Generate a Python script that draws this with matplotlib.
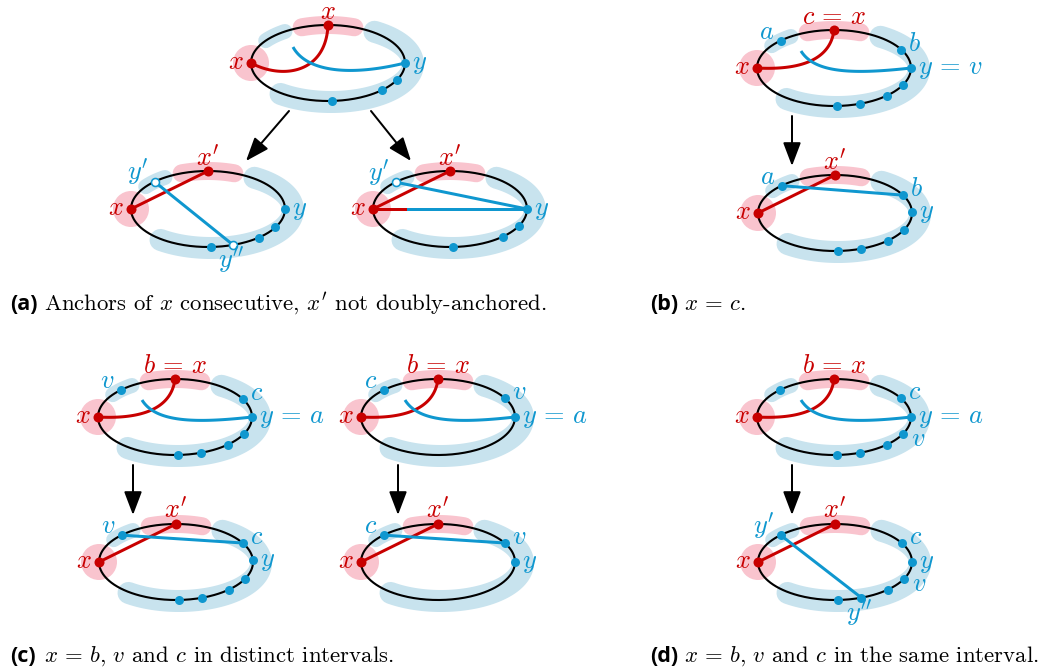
import numpy as np
import matplotlib.pyplot as plt
from matplotlib.patches import Circle, FancyArrowPatch

plt.rcParams['mathtext.fontset'] = 'cm'

RED = '#c80000'
BLUE = '#0f97cf'
PINK = '#f9c4ce'
PALE = '#c8e3ee'
COL = {'r': RED, 'b': BLUE}

PX = 0.72          # points per pixel at dpi 100
RX, RY = 77, 38    # ellipse half-axes (px)

# ellipse centres (px, y grows downwards)
centres = {
    'a0': (328, 63), 'a1': (208, 209), 'a2': (450, 209),
    'b0': (834, 68), 'b1': (835, 213),
    'c0': (175, 417), 'c1': (176, 562), 'c2': (438, 417), 'c3': (438, 562),
    'd0': (834, 417), 'd1': (835, 562),
}

# blue vertices, parametric angle on the ellipse in degrees
blue_dots = {
    'a0': [0, -27, -45, -87],
    'a1': [0, -29, -49, -88],
    'a2': [0, -27, -47, -88],
    'b0': [134, 29, 0, -27, -47, -70, -88],
    'b1': [134, 28, 2, -27, -47, -70, -88],
    'c0': [135, 28, 0, -27, -47, -70, -88],
    'c1': [135, 30, 3, -27, -47, -70, -88],
    'c2': [135, 30, 0],
    'c3': [135, 30, 0],
    'd0': [135, 30, 0, -27, -47, -70, -88],
    'd1': [135, 30, 0, -27, -47, -70, -88],
}
hollow_dots = {'a1': [134, -71], 'a2': [135]}
red_dots = [180, 90]

# vertex labels: (angle, text, colour, placement)
labels = {
    'a0': [(180, 'x', 'r', 'left'), (90, 'x', 'r', 'top'), (0, 'y', 'b', 'right')],
    'a1': [(180, 'x', 'r', 'left'), (90, "x'", 'r', 'top'), (134, "y'", 'b', 'ul'),
           (0, 'y', 'b', 'right'), (-71, "y''", 'b', 'below')],
    'a2': [(180, 'x', 'r', 'left'), (90, "x'", 'r', 'top'), (135, "y'", 'b', 'ul'),
           (0, 'y', 'b', 'right')],
    'b0': [(180, 'x', 'r', 'left'), (90, 'c = x', 'r', 'top'), (134, 'a', 'b', 'ul'),
           (29, 'b', 'b', 'ur'), (0, 'y = v', 'b', 'right')],
    'b1': [(180, 'x', 'r', 'left'), (90, "x'", 'r', 'top'), (134, 'a', 'b', 'ul'),
           (28, 'b', 'b', 'ur'), (2, 'y', 'b', 'right')],
    'c0': [(180, 'x', 'r', 'left'), (90, 'b = x', 'r', 'top'), (135, 'v', 'b', 'ul'),
           (28, 'c', 'b', 'ur'), (0, 'y = a', 'b', 'right')],
    'c1': [(180, 'x', 'r', 'left'), (90, "x'", 'r', 'top'), (135, 'v', 'b', 'ul'),
           (30, 'c', 'b', 'ur'), (3, 'y', 'b', 'right')],
    'c2': [(180, 'x', 'r', 'left'), (90, 'b = x', 'r', 'top'), (135, 'c', 'b', 'ul'),
           (30, 'v', 'b', 'ur'), (0, 'y = a', 'b', 'right')],
    'c3': [(180, 'x', 'r', 'left'), (90, "x'", 'r', 'top'), (135, 'c', 'b', 'ul'),
           (30, 'v', 'b', 'ur'), (0, 'y', 'b', 'right')],
    'd0': [(180, 'x', 'r', 'left'), (90, 'b = x', 'r', 'top'), (30, 'c', 'b', 'ur'),
           (0, 'y = a', 'b', 'right'), (-27, 'v', 'b', 'lr')],
    'd1': [(180, 'x', 'r', 'left'), (90, "x'", 'r', 'top'), (135, "y'", 'b', 'ul'),
           (30, 'c', 'b', 'ur'), (0, 'y', 'b', 'right'), (-27, 'v', 'b', 'lr'),
           (-70, "y''", 'b', 'below')],
}

# straight edges between two vertices
chords = {
    'a1': [(180, 90, 'r'), (134, -71, 'b')],
    'a2': [(180, 90, 'r'), (135, 0, 'b'), (180, 0, 'split')],
    'b1': [(180, 90, 'r'), (134, 28, 'b')],
    'c1': [(180, 90, 'r'), (135, 30, 'b')],
    'c3': [(180, 90, 'r'), (135, 30, 'b')],
    'd1': [(180, 90, 'r'), (135, -70, 'b')],
}
curved = ['a0', 'b0', 'c0', 'c2', 'd0']

# arrows: (source panel, tail dx, head dx)
arrows = [('a0', -39, -82), ('a0', 43, 83), ('b0', -42, -42),
          ('c0', -42, -42), ('c2', -40, -40), ('d0', -42, -42)]

captions = [
    ('(a)', r"Anchors of $x$ consecutive, $x'$ not doubly-anchored.", 10, 310),
    ('(b)', r'$x = c$.', 650, 310),
    ('(c)', r'$x = b$, $v$ and $c$ in distinct intervals.', 10, 662),
    ('(d)', r'$x = b$, $v$ and $c$ in the same interval.', 650, 662),
]

PLACE = {
    'left': (-7, 6, 'right'), 'right': (7, 6, 'left'), 'top': (0, -6, 'center'),
    'ul': (-6, -2, 'right'), 'ur': (7, 1, 'left'), 'lr': (8, 12, 'left'),
    'below': (-2, 23, 'center'),
}


def spaced(s):
    # wider gaps around '=' as in TeX
    return s.replace(' = ', r'\,=\,')


def pt(c, t, rx=RX, ry=RY):
    t = np.radians(t)
    return c[0] + rx * np.cos(t), c[1] - ry * np.sin(t)


def arc(c, t0, t1, rx=RX, ry=RY, n=120):
    t = np.radians(np.linspace(t0, t1, n))
    return c[0] + rx * np.cos(t), c[1] - ry * np.sin(t)


def bezier(p0, p1, p2, p3, n=80):
    s = np.linspace(0, 1, n)[:, None]
    p = ((1 - s) ** 3 * np.array(p0) + 3 * (1 - s) ** 2 * s * np.array(p1)
         + 3 * (1 - s) * s ** 2 * np.array(p2) + s ** 3 * np.array(p3))
    return p[:, 0], p[:, 1]


fig = plt.figure(figsize=(10.49, 6.70), dpi=100)
ax = fig.add_axes([0, 0, 1, 1])
ax.set_xlim(0, 1049)
ax.set_ylim(670, 0)
ax.axis('off')

for name, c in centres.items():
    cx, cy = c
    # highlighted intervals
    ax.add_patch(Circle(pt(c, 180), 18, color=PINK, lw=0, zorder=1))
    ax.plot(*arc(c, 110, 70), color=PINK, lw=18 * PX, solid_capstyle='round', zorder=1)
    ax.plot(*arc(c, 124, 144), color=PALE, lw=15 * PX, solid_capstyle='round', zorder=1)
    ax.plot(*arc((cx + 3, cy + 1), 58, -128, RX + 5, RY), color=PALE, lw=22 * PX,
            solid_capstyle='round', zorder=1)
    # cycle
    ax.plot(*arc(c, 0, 360, n=300), color='black', lw=2.1 * PX, zorder=2)

    if name in curved:
        x0, y0 = pt(c, 180)
        x1, y1 = pt(c, 90)
        xe, ye = pt(c, 0)
        if name == 'a0':
            red = bezier((x0, y0), (cx - 45, cy + 17), (cx - 2, cy + 10), (x1, y1))
            blue = bezier((cx - 35, cy - 16), (cx - 22, cy + 8), (cx + 20, cy + 14), (xe, ye))
        else:
            red = bezier((x0, y0), (cx - 40, cy + 2), (cx - 4, cy - 5), (x1, y1))
            blue = bezier((cx - 33, cy - 17), (cx - 20, cy + 4), (cx + 15, cy + 7), (xe, ye))
        ax.plot(*red, color=RED, lw=3 * PX, solid_capstyle='butt', zorder=3)
        ax.plot(*blue, color=BLUE, lw=3 * PX, solid_capstyle='butt', zorder=3)

    for t0, t1, kind in chords.get(name, []):
        p0, p1 = np.array(pt(c, t0)), np.array(pt(c, t1))
        if kind == 'split':
            m = p0 + 0.23 * (p1 - p0)
            ax.plot([p0[0], m[0]], [p0[1], m[1]], color=RED, lw=3 * PX, zorder=3)
            ax.plot([m[0], p1[0]], [m[1], p1[1]], color=BLUE, lw=3 * PX, zorder=3)
        else:
            ax.plot([p0[0], p1[0]], [p0[1], p1[1]], color=COL[kind], lw=3 * PX, zorder=3)

    for t in red_dots:
        ax.plot(*pt(c, t), 'o', ms=10 * PX, color=RED, mew=0, zorder=4)
    for t in blue_dots[name]:
        ax.plot(*pt(c, t), 'o', ms=9 * PX, color=BLUE, mew=0, zorder=4)
    for t in hollow_dots.get(name, []):
        ax.plot(*pt(c, t), 'o', ms=8 * PX, mfc='white', mec=BLUE, mew=1.6 * PX, zorder=4)

    for t, txt, col, where in labels[name]:
        dx, dy, ha = PLACE[where]
        x, y = pt(c, t)
        ax.text(x + dx, y + dy, '$' + spaced(txt) + '$', color=COL[col], fontsize=19,
                ha=ha, va='baseline', zorder=5)

for name, dt, dh in arrows:
    cx, cy = centres[name]
    ax.add_patch(FancyArrowPatch((cx + dt, cy + 48), (cx + dh, cy + 98),
                                 arrowstyle='-|>,head_length=1.0,head_width=0.38',
                                 mutation_scale=14.4, lw=2 * PX, color='black',
                                 shrinkA=0, shrinkB=0, zorder=3))

for tag, text, x, y in captions:
    ax.text(x, y, tag, fontsize=15.5, fontfamily='Open Sans', fontweight='bold',
            ha='left', va='baseline')
    ax.text(x + 34, y, spaced(text), fontsize=16.4, fontfamily='cmr10',
            ha='left', va='baseline')

fig.savefig('out.png', dpi=100)
